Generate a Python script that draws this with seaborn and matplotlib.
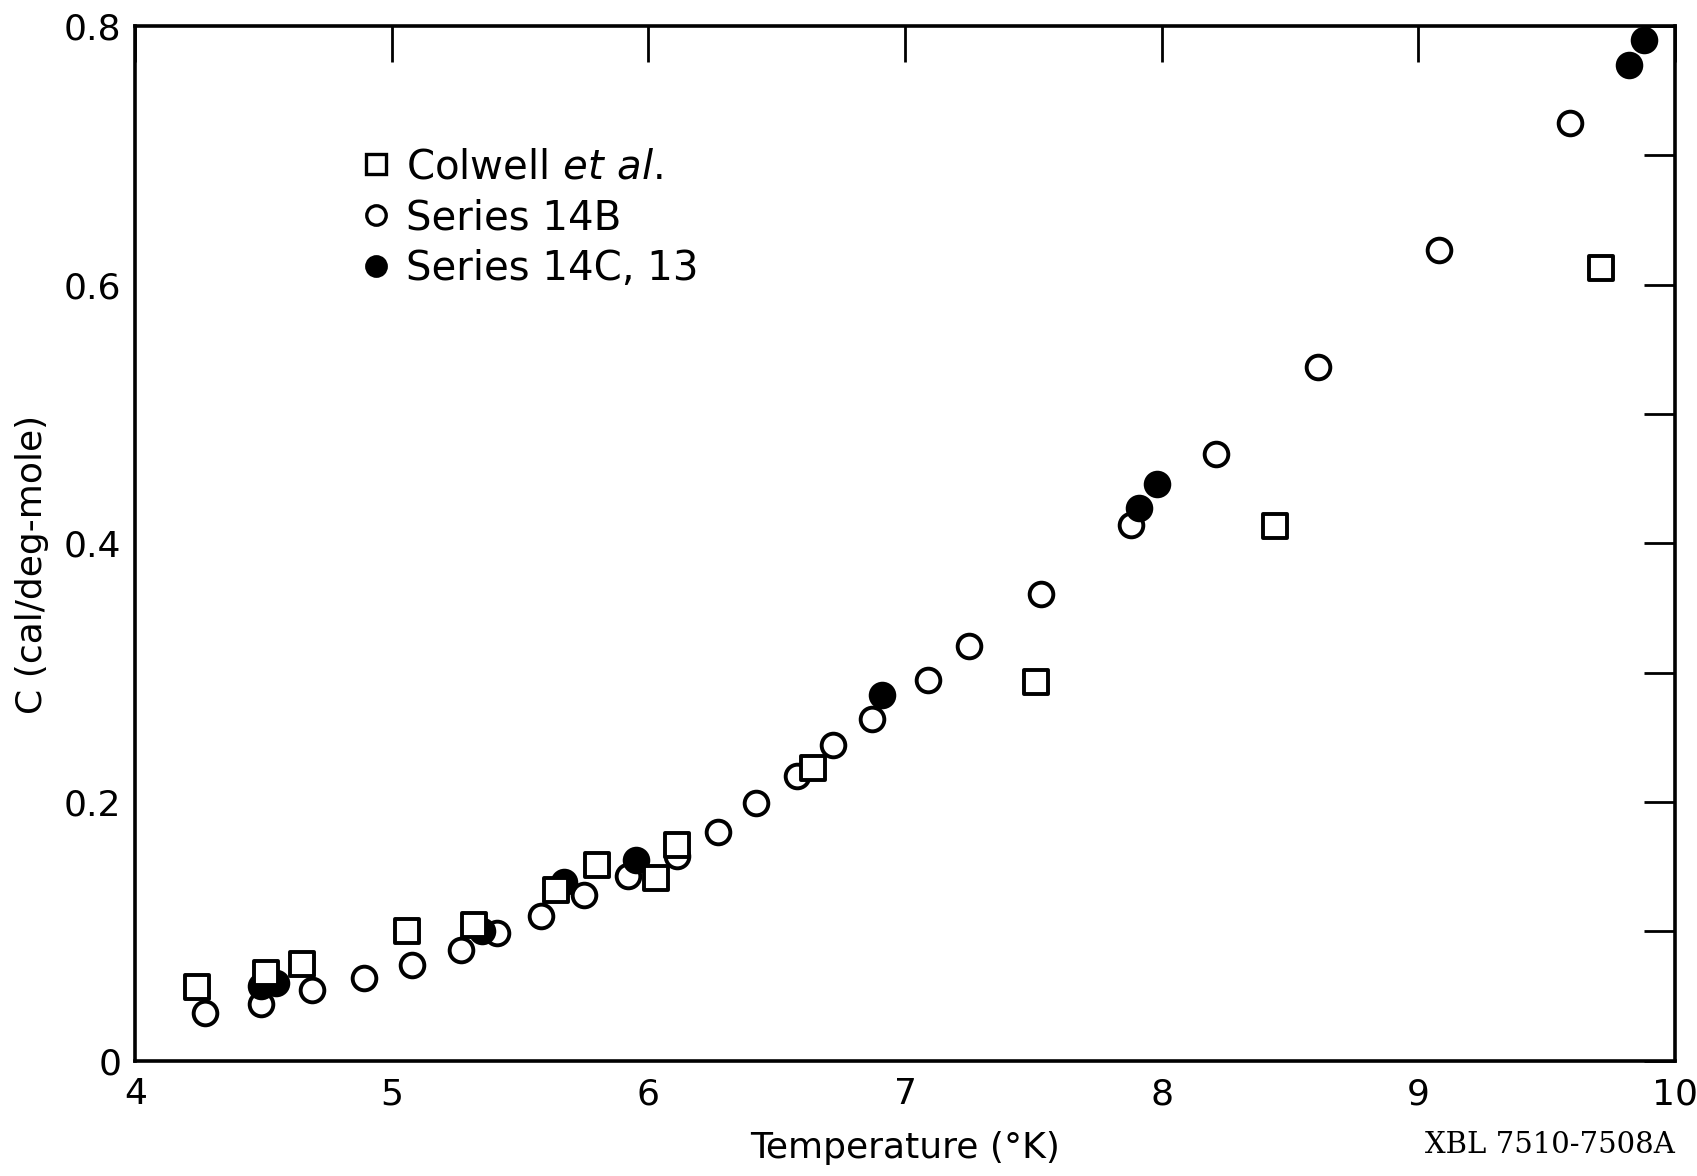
import numpy as np
import pandas as pd
import matplotlib
matplotlib.use("Agg")
import matplotlib.pyplot as plt
import seaborn as sns
from matplotlib.lines import Line2D

# ---- data ----
colwell_T = [4.24, 4.51, 4.65, 5.06, 5.32, 5.64, 5.80, 6.03, 6.11, 6.64, 7.51, 8.44, 9.71]
colwell_C = [0.057, 0.068, 0.075, 0.100, 0.105, 0.132, 0.151, 0.141, 0.167, 0.226, 0.293, 0.413, 0.613]

s14b_T = [4.27, 4.49, 4.69, 4.89, 5.08, 5.27, 5.41, 5.58, 5.75, 5.92, 6.11, 6.27, 6.42,
          6.58, 6.72, 6.87, 7.09, 7.25, 7.53, 7.88, 8.21, 8.61, 9.08, 9.59]
s14b_C = [0.037, 0.044, 0.055, 0.064, 0.074, 0.086, 0.099, 0.112, 0.128, 0.143, 0.158,
          0.177, 0.199, 0.220, 0.244, 0.264, 0.294, 0.321, 0.361, 0.414, 0.469, 0.536,
          0.627, 0.725]

s14c_T = [4.49, 4.55, 5.35, 5.67, 5.95, 6.91, 7.91, 7.98, 9.82, 9.88]
s14c_C = [0.058, 0.060, 0.100, 0.138, 0.155, 0.283, 0.427, 0.446, 0.770, 0.789]

x_ticks = [4, 5, 6, 7, 8, 9, 10]
x_labels = ["4", "5", "6", "7", "8", "9", "10"]
y_major = [0, 0.2, 0.4, 0.6, 0.8]
y_labels = ["0", "0.2", "0.4", "0.6", "0.8"]
y_minor = [0.1, 0.3, 0.5, 0.7]

series_names = ["Colwell $\\it{et\\ al.}$", "Series 14B", "Series 14C, 13"]

df = pd.concat([
    pd.DataFrame({"T": colwell_T, "C": colwell_C, "series": series_names[0]}),
    pd.DataFrame({"T": s14b_T, "C": s14b_C, "series": series_names[1]}),
    pd.DataFrame({"T": s14c_T, "C": s14c_C, "series": series_names[2]}),
], ignore_index=True)

sns.set_theme(style="white")
plt.rcParams["font.family"] = ["DejaVu Sans"]
plt.rcParams["text.color"] = "black"
plt.rcParams["axes.labelcolor"] = "black"
plt.rcParams["xtick.color"] = "black"
plt.rcParams["ytick.color"] = "black"

fig = plt.figure(figsize=(16.97, 11.76), dpi=100)
ax = fig.add_axes([0.0797, 0.098, 0.9073, 0.880])

lw = 2.8
ms = 290
sns.scatterplot(data=df[df.series == series_names[1]], x="T", y="C", marker="o",
                s=ms, facecolor="white", edgecolor="black", linewidth=lw, ax=ax, zorder=3)
sns.scatterplot(data=df[df.series == series_names[2]], x="T", y="C", marker="o",
                s=ms, facecolor="black", edgecolor="black", linewidth=lw, ax=ax, zorder=4)
sns.scatterplot(data=df[df.series == series_names[0]], x="T", y="C", marker="s",
                s=ms * 0.95, facecolor="white", edgecolor="black", linewidth=lw, ax=ax, zorder=5)

ax.set_xlim(4, 10)
ax.set_ylim(0, 0.8)
ax.set_xticks(x_ticks)
ax.set_xticklabels(x_labels)
ax.set_yticks(y_major)
ax.set_yticklabels(y_labels)
ax.set_yticks(y_minor, minor=True)

for sp in ax.spines.values():
    sp.set_linewidth(2.6)
    sp.set_color("black")

ax.tick_params(axis="both", which="both", direction="in", top=True, right=True,
               color="black", width=2.0)
ax.tick_params(axis="x", which="major", length=26, labelsize=26, pad=12)
ax.tick_params(axis="y", which="major", length=22, labelsize=26, pad=10)
ax.tick_params(axis="y", which="minor", length=22, width=2.0)

ax.set_xlabel("Temperature (°K)", fontsize=26, labelpad=14, color="black")
ax.set_ylabel("C (cal/deg-mole)", fontsize=26, color="black")
ax.yaxis.set_label_coords(-0.056, 0.48)

handles = [
    Line2D([], [], linestyle="none", marker="s", markersize=14, markerfacecolor="white",
           markeredgecolor="black", markeredgewidth=2.4),
    Line2D([], [], linestyle="none", marker="o", markersize=14, markerfacecolor="white",
           markeredgecolor="black", markeredgewidth=2.4),
    Line2D([], [], linestyle="none", marker="o", markersize=14, markerfacecolor="black",
           markeredgecolor="black", markeredgewidth=2.4),
]
leg = ax.legend(handles, series_names, loc="upper left", bbox_to_anchor=(0.133, 0.902),
                frameon=False, fontsize=29, handletextpad=0.35, labelspacing=0.27,
                handlelength=0.8, borderpad=0)
for t in leg.get_texts():
    t.set_color("black")

fig.text(0.987, 0.026, "XBL 7510-7508A", ha="right", va="center",
         fontsize=21, family="DejaVu Serif", color="black")

fig.savefig("out.png", dpi=100, facecolor="white")
